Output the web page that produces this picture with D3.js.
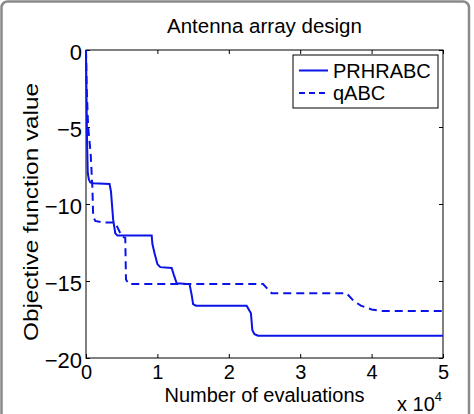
<!DOCTYPE html>
<html>
<head>
<meta charset="utf-8">
<script src="https://cdn.jsdelivr.net/npm/d3@7"></script>
<style>
  body { margin: 0; background: #fff; }
  text { font-family: "Liberation Sans", Arial, Helvetica, sans-serif; fill: #000; }
</style>
</head>
<body>
<div id="chart"></div>
<script>
// series
var evalsPR = [0, 50, 100, 150, 250, 400, 600, 1000, 3300, 3500, 3800, 4100, 4400, 9200, 9300, 9600, 10000, 10400, 12000, 12300, 12700, 14500, 14800, 15000, 15400, 22500, 23100, 23300, 23600, 24100, 50000];
var valsPR  = [0, -2, -4, -6, -8, -8.4, -8.6, -8.65, -8.7, -9.2, -11.0, -11.9, -12.05, -12.05, -12.6, -13.2, -13.9, -14.1, -14.15, -14.6, -15.15, -15.2, -15.9, -16.5, -16.6, -16.6, -17.1, -18.2, -18.45, -18.55, -18.55];

var evalsQ = [0, 100, 300, 650, 900, 1000, 1300, 2500, 4000, 4400, 5000, 5500, 5600, 6000, 7000, 24800, 25400, 26000, 36500, 37500, 38500, 40000, 41500, 50000];
var valsQ  = [0, -2.5, -5, -6.7, -9, -10.8, -11.1, -11.2, -11.2, -11.5, -12.1, -12.2, -14.9, -15.2, -15.2, -15.2, -15.5, -15.8, -15.8, -16.3, -16.6, -16.85, -16.95, -16.95];

var seriesNames = ["PRHRABC", "qABC"];
var xTicks = [0, 10000, 20000, 30000, 40000, 50000];
var yTicks = [0, -5, -10, -15, -20];

var svgWidth = 474;
var svgHeight = 414;
var margin = { top: 50, right: 31, bottom: 56, left: 86 };
var width = svgWidth - margin.left - margin.right;
var height = svgHeight - margin.top - margin.bottom;
var blue = "#0a14e6";

var svg = d3.select("#chart")
    .append("svg")
    .attr("width", svgWidth)
    .attr("height", svgHeight);

// outer frame
svg.append("rect")
    .attr("x", 1.5).attr("y", 1.5)
    .attr("width", 467.5).attr("height", 425)
    .attr("rx", 6)
    .attr("fill", "none")
    .attr("stroke", "#8a8a8a")
    .attr("stroke-width", 2.5);

var chartGroup = svg.append("g")
    .attr("transform", `translate(${margin.left}, ${margin.top})`);

var x = d3.scaleLinear().domain([0, 50000]).range([0, width]);
var y = d3.scaleLinear().domain([-20, 0]).range([height, 0]);

var bottomAxis = d3.axisBottom(x).tickValues(xTicks)
    .tickFormat(d => d / 10000).tickSizeInner(-4).tickSizeOuter(0).tickPadding(7);
var leftAxis = d3.axisLeft(y).tickValues(yTicks)
    .tickFormat(d => d < 0 ? "\u2212" + (-d) : d)
    .tickSizeInner(-4).tickSizeOuter(0).tickPadding(4);
var topAxis = d3.axisTop(x).tickValues(xTicks).tickFormat("").tickSizeInner(-4).tickSizeOuter(0);
var rightAxis = d3.axisRight(y).tickValues(yTicks).tickFormat("").tickSizeInner(-4).tickSizeOuter(0);

var gx = chartGroup.append("g").attr("transform", `translate(0, ${height})`).call(bottomAxis);
var gy = chartGroup.append("g").call(leftAxis);
chartGroup.append("g").call(topAxis);
chartGroup.append("g").attr("transform", `translate(${width}, 0)`).call(rightAxis);

chartGroup.selectAll(".domain").remove();
chartGroup.selectAll(".tick line").attr("stroke", "#000");
chartGroup.selectAll(".tick text").attr("fill", "#000");
gx.selectAll(".tick text").style("font-size", "20px");
gy.selectAll(".tick text").style("font-size", "22px").attr("dy", "0.42em");

chartGroup.append("rect")
    .attr("width", width).attr("height", height)
    .attr("fill", "none").attr("stroke", "#000").attr("stroke-width", 1);

var line = d3.line().x(d => x(d[0])).y(d => y(d[1]));

var dataPR = evalsPR.map((e, i) => [e, valsPR[i]]);
var dataQ = evalsQ.map((e, i) => [e, valsQ[i]]);

chartGroup.append("path").datum(dataQ)
    .attr("d", line).attr("fill", "none")
    .attr("stroke", blue).attr("stroke-width", 2)
    .attr("stroke-dasharray", "8,5");

chartGroup.append("path").datum(dataPR)
    .attr("d", line).attr("fill", "none")
    .attr("stroke", blue).attr("stroke-width", 2);

// legend
var legend = svg.append("g").attr("transform", "translate(293, 55)");
legend.append("rect")
    .attr("width", 145).attr("height", 53)
    .attr("fill", "#fff").attr("stroke", "#000").attr("stroke-width", 1);
seriesNames.forEach(function(name, i) {
    var ly = 15.5 + i * 22.5;
    legend.append("line")
        .attr("x1", 6).attr("x2", 35).attr("y1", ly).attr("y2", ly)
        .attr("stroke", blue).attr("stroke-width", 2)
        .attr("stroke-dasharray", i === 1 ? "6,4" : null);
    legend.append("text")
        .attr("x", 40).attr("y", ly + 7)
        .style("font-size", "20px")
        .text(name);
});

// title and labels
svg.append("text")
    .attr("x", margin.left + width / 2).attr("y", 33)
    .attr("text-anchor", "middle")
    .style("font-size", "20.5px")
    .text("Antenna array design");

svg.append("text")
    .attr("x", margin.left + width / 2).attr("y", 402)
    .attr("text-anchor", "middle")
    .style("font-size", "20px")
    .text("Number of evaluations");

var mult = svg.append("text")
    .attr("x", 397).attr("y", 411)
    .style("font-size", "20px");
mult.append("tspan").text("x 10");
mult.append("tspan").attr("dy", -10).style("font-size", "13px").text("4");

svg.append("text")
    .attr("transform", "translate(38, 212) rotate(-90)")
    .attr("text-anchor", "middle")
    .attr("textLength", 258)
    .attr("lengthAdjust", "spacingAndGlyphs")
    .style("font-size", "21px")
    .text("Objective function value");
</script>
</body>
</html>
